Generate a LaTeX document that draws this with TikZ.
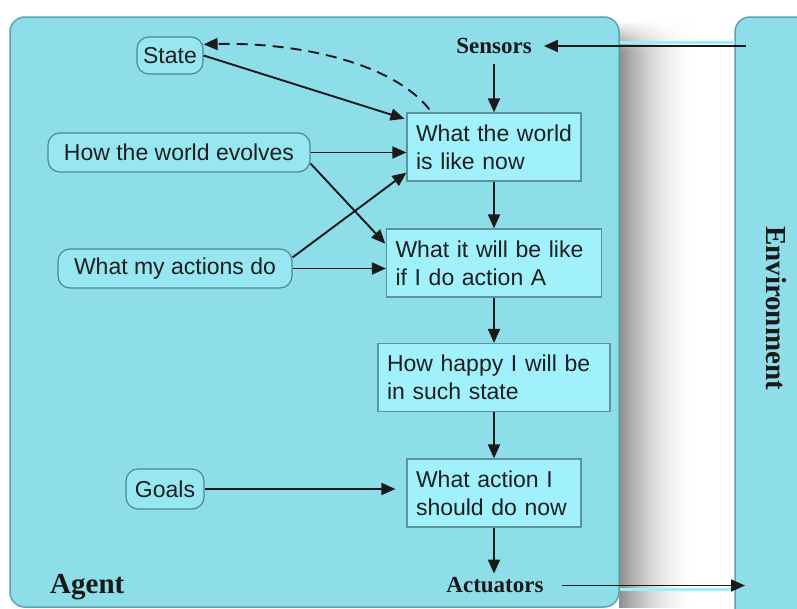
\documentclass[tikz,border=0pt]{standalone}
\usepackage{fontspec}
\setmainfont{Liberation Sans}
\newfontfamily\labelfont{Liberation Serif}
\usetikzlibrary{arrows.meta}

\definecolor{panelfill}{HTML}{8EDEEA}
\definecolor{panelborder}{HTML}{5AA3AE}
\definecolor{pillfill}{HTML}{97E7F2}
\definecolor{pillborder}{HTML}{4F878F}
\definecolor{rectfill}{HTML}{A0F1FB}
\definecolor{rectborder}{HTML}{5E939B}
\definecolor{linkcol}{HTML}{1A1A1A}
\definecolor{stripcol}{HTML}{9CF0FA}

\newcommand\diagfont{\fontsize{23}{28}\selectfont}
\newcommand\tagfont{\labelfont\bfseries\fontsize{23}{26}\selectfont}
\newcommand\bigtagfont{\labelfont\bfseries\fontsize{29}{32}\selectfont}

\tikzset{
  panel/.style={fill=panelfill, draw=panelborder, line width=1.5pt, rounded corners=15pt},
  box/.style={draw=rectborder, fill=rectfill, line width=1.2pt, align=left,
    inner xsep=9pt, inner ysep=0pt, minimum height=68pt, font=\diagfont, text=black!88},
  pill/.style={draw=pillborder, fill=pillfill, line width=1.2pt, rounded corners=12pt,
    inner sep=0pt, minimum height=39pt, font=\diagfont, text=black!88},
  tag/.style={font=\tagfont, inner sep=4pt, text=black!90},
  link/.style={line width=1.9pt, draw=linkcol, -{Triangle[length=14pt,width=12pt]}},
  feedback/.style={link, dash pattern=on 11pt off 7pt},
  strip/.style={draw=stripcol, line width=3pt},
}

\begin{document}
\begin{tikzpicture}[x=1pt, y=-1pt]
  \useasboundingbox (0,0) rectangle (797,608);
  \fill[white] (0,0) rectangle (797,608);

  % soft shadow in the gap: vertical bands getting lighter to the right
  \foreach \i in {0,...,39}{
    \pgfmathsetmacro\shadeamt{88*(1-\i/40)^2}
    \fill[gray!\shadeamt] (619+2*\i,20) rectangle (621.4+2*\i,608);
  }
  % fade the shadow out towards the top
  \foreach \j in {0,...,14}{
    \pgfmathsetmacro\fadeamt{1-\j/15}
    \fill[white, opacity=\fadeamt] (619,20+2*\j) rectangle (705,22+2*\j);
  }

  % agent and environment panels
  \draw[panel] (10,17) rectangle (619,607);
  \draw[panel] (735,17) rectangle (860,640);

  % light edges of the sensor / actuator links across the gap
  \draw[strip] (620,42.5) -- (735,42.5);
  \draw[strip] (620,589) -- (735,589);

  % panel captions
  \node[font=\bigtagfont, anchor=base west, inner sep=0pt, text=black!90] (agentlbl) at (50,593) {Agent};
  \node[font=\bigtagfont, rotate=-90, inner sep=0pt, text=black!90] (envlbl) at (776,308) {Environment};

  % sensors and actuators
  \node[tag] (sensors) at (494,46) {Sensors};
  \node[tag] (actuators) at (495,585.5) {Actuators};
  \coordinate (envin) at (746,46);
  \coordinate (envout) at (745,585.5);

  % knowledge sources
  \node[pill, minimum width=66pt, minimum height=37pt] (state) at (170,55.5) {State};
  \node[pill, minimum width=262pt] (evolves) at (179,152.5) {How the world evolves};
  \node[pill, minimum width=234pt] (actions) at (175,268.5) {What my actions do};
  \node[pill, minimum width=78pt, minimum height=40pt] (goals) at (165,489) {Goals};

  % reasoning chain
  \node[box, text width=156pt] (now) at (494,147) {What the world\\is like now};
  \node[box, text width=197pt] (will) at (494,263) {What it will be like\\if I do action A};
  \node[box, text width=214pt] (happy) at (494,377.5) {How happy I will be\\in such state};
  \node[box, text width=156pt] (act) at (494,493) {What action I\\should do now};

  % percepts in, actions out
  \draw[link, shorten >=8pt] (envin) -- (envin -| sensors.east);
  \draw[link, shorten <=6pt] (sensors.south) -- (sensors.south |- now.north);
  \draw[link, shorten <=14pt] (actuators.east) -- (actuators.east -| envout);

  % main chain
  \draw[link] (now) -- (will);
  \draw[link] (will) -- (happy);
  \draw[link] (happy) -- (act);
  \draw[link] (act.south) -- (act.south |- actuators.north);

  % inputs to the chain
  \draw[link, shorten >=2pt] (state.east) -- ([yshift=-7pt]now.north west);
  \draw[link] (evolves.east) -- (evolves.east -| now.west);
  \draw[link, shorten >=1pt] ([yshift=9pt]evolves.south east) -- ([yshift=-16pt]will.north west);
  \draw[link] ([yshift=-9pt]actions.north east) -- ([yshift=9pt]now.south west);
  \draw[link] (actions.east) -- (actions.east -| will.west);
  \draw[link, shorten >=11pt] (goals.east) -- (goals.east -| act.west);

  % state update
  \draw[feedback] ([xshift=23pt,yshift=3pt]now.north west)
    .. controls (390,60) and (290,42) .. ([yshift=-8pt]state.north east);
\end{tikzpicture}
\end{document}
